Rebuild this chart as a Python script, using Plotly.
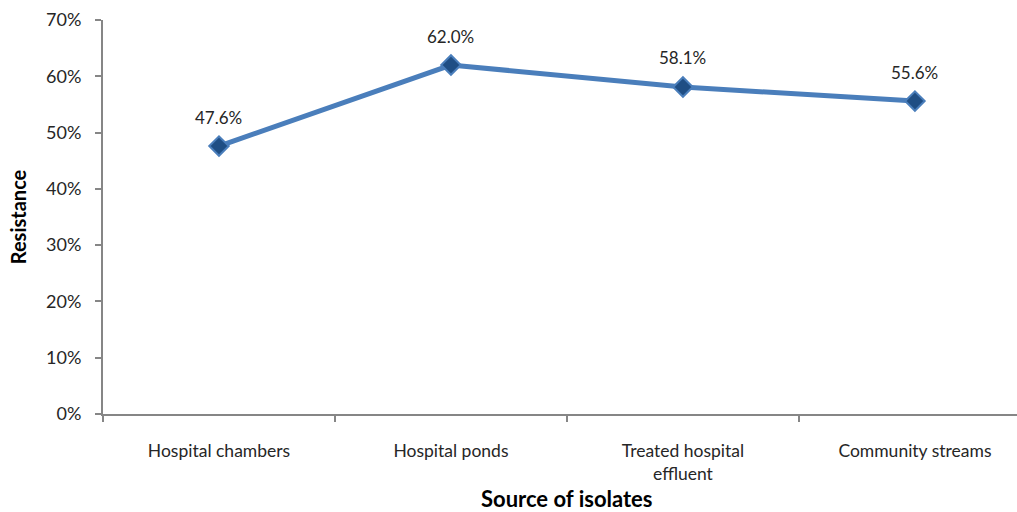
import plotly.graph_objects as go

# Resistance by source of isolates
sources = ["Hospital chambers", "Hospital ponds", "Treated hospital<br>effluent", "Community streams"]
resistance = [47.6, 62.0, 58.1, 55.6]
y_ticks = [0, 10, 20, 30, 40, 50, 60, 70]
y_tick_labels = ["0%", "10%", "20%", "30%", "40%", "50%", "60%", "70%"]

FONT = "Lato"
AXIS_GRAY = "#868686"
TEXT = "#262626"

fig = go.Figure()
fig.add_trace(go.Scatter(
    x=sources,
    y=resistance,
    mode="lines+markers",
    line=dict(color="#4a7ebb", width=5),
    marker=dict(symbol="diamond", size=15, color="#1f4e84",
                line=dict(color="#4a7ebb", width=2)),
    cliponaxis=False,
    hoverinfo="skip",
))

for src, val in zip(sources, resistance):
    fig.add_annotation(
        x=src, y=val, text=f"{val:.1f}%", showarrow=False,
        yshift=29, font=dict(family=FONT, size=17, color=TEXT),
    )

# x-axis title placed below the category labels
fig.add_annotation(
    text="<b>Source of isolates</b>", xref="paper", yref="paper",
    x=0.508, y=-0.215, xanchor="center", yanchor="middle", showarrow=False,
    borderpad=0,
    font=dict(family=FONT, size=22, color="#000000"),
)

fig.update_layout(
    width=1017, height=512,
    margin=dict(l=103, r=0, t=20, b=98),
    plot_bgcolor="white", paper_bgcolor="white",
    showlegend=False,
    font=dict(family=FONT, color=TEXT),
)

fig.update_xaxes(
    type="category",
    range=[-0.5, 3.44],
    automargin=False,
    showgrid=False,
    showline=True, linecolor=AXIS_GRAY, linewidth=2,
    ticks="outside", tickson="boundaries", ticklen=6, tickcolor=AXIS_GRAY, tickwidth=2,
    ticklabelstandoff=20,
    tickfont=dict(family=FONT, size=17.5, color=TEXT),
)

fig.update_yaxes(
    range=[0, 70],
    automargin=False,
    tickvals=y_ticks, ticktext=y_tick_labels,
    showgrid=False, zeroline=False,
    showline=True, linecolor=AXIS_GRAY, linewidth=2,
    ticks="outside", ticklen=6, tickcolor=AXIS_GRAY, tickwidth=2,
    ticklabelstandoff=10,
    tickfont=dict(family=FONT, size=18, color=TEXT),
    title=dict(text="<b>Resistance</b>", font=dict(family=FONT, size=20, color="#000000"),
               standoff=14),
)

fig.write_html("out.html")
